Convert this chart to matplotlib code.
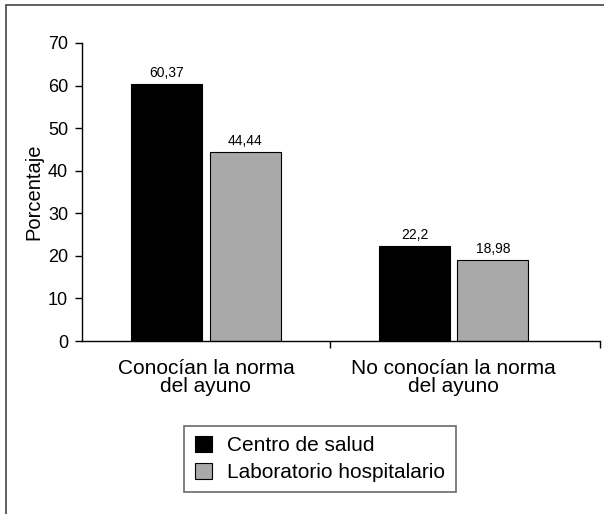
import matplotlib.pyplot as plt
import numpy as np
from matplotlib.patches import Rectangle

plt.rcParams['font.family'] = ['Liberation Sans', 'DejaVu Sans']

# data
categorias = ['Conocían la norma\ndel ayuno', 'No conocían la norma\ndel ayuno']
centro_salud = [60.37, 22.2]
laboratorio = [44.44, 18.98]
etiquetas_centro = ['60,37', '22,2']
etiquetas_lab = ['44,44', '18,98']

fig = plt.figure(figsize=(6.04, 5.14), dpi=100)
ax = fig.add_axes([82/604, 173/514, 518/604, 298/514])

# border around the figure (left/top visible)
fig.patches.append(Rectangle((6/604, -0.01), 1.0, 1 - 5/514 + 0.01, transform=fig.transFigure,
                             fill=False, edgecolor='#444444', linewidth=1.2))

x = np.arange(len(categorias))
w = 0.286
off = 0.158
b1 = ax.bar(x - off, centro_salud, w, color='black', edgecolor='black', linewidth=0.8,
            label='Centro de salud')
b2 = ax.bar(x + off, laboratorio, w, color='#a9a9a9', edgecolor='black', linewidth=0.8,
            label='Laboratorio hospitalario')

for rect, txt in zip(b1, etiquetas_centro):
    ax.text(rect.get_x() + rect.get_width()/2, rect.get_height() + 1.0, txt,
            ha='center', va='bottom', fontsize=10)
for rect, txt in zip(b2, etiquetas_lab):
    ax.text(rect.get_x() + rect.get_width()/2, rect.get_height() + 1.0, txt,
            ha='center', va='bottom', fontsize=10)

xmax = 1.59
ax.set_xlim(-0.5, xmax)
ax.set_ylim(0, 70)
ax.set_yticks(range(0, 71, 10))
ax.tick_params(axis='y', labelsize=13, length=5, width=1, direction='out', pad=5)

ax.set_xticks(x)
ax.set_xticklabels(categorias, fontsize=15, linespacing=0.95)
ax.tick_params(axis='x', length=0, pad=13)
ax.set_xticks([0.5, xmax], minor=True)
ax.tick_params(axis='x', which='minor', length=5, width=1, direction='out')

ax.spines['top'].set_visible(False)
ax.spines['right'].set_visible(False)
for s in ['left', 'bottom']:
    ax.spines[s].set_linewidth(1)

ax.set_ylabel('Porcentaje', fontsize=14.5, labelpad=3)

leg = fig.legend(loc='center', bbox_to_anchor=(320/604, 1 - 459/514), fontsize=15,
                 frameon=True, fancybox=False, handlelength=0.8, handleheight=0.8,
                 borderpad=0.5, labelspacing=0.35, handletextpad=0.75, borderaxespad=0)
leg.get_frame().set_edgecolor('#444444')
leg.get_frame().set_linewidth(1.2)

fig.savefig('out.png', dpi=100)
